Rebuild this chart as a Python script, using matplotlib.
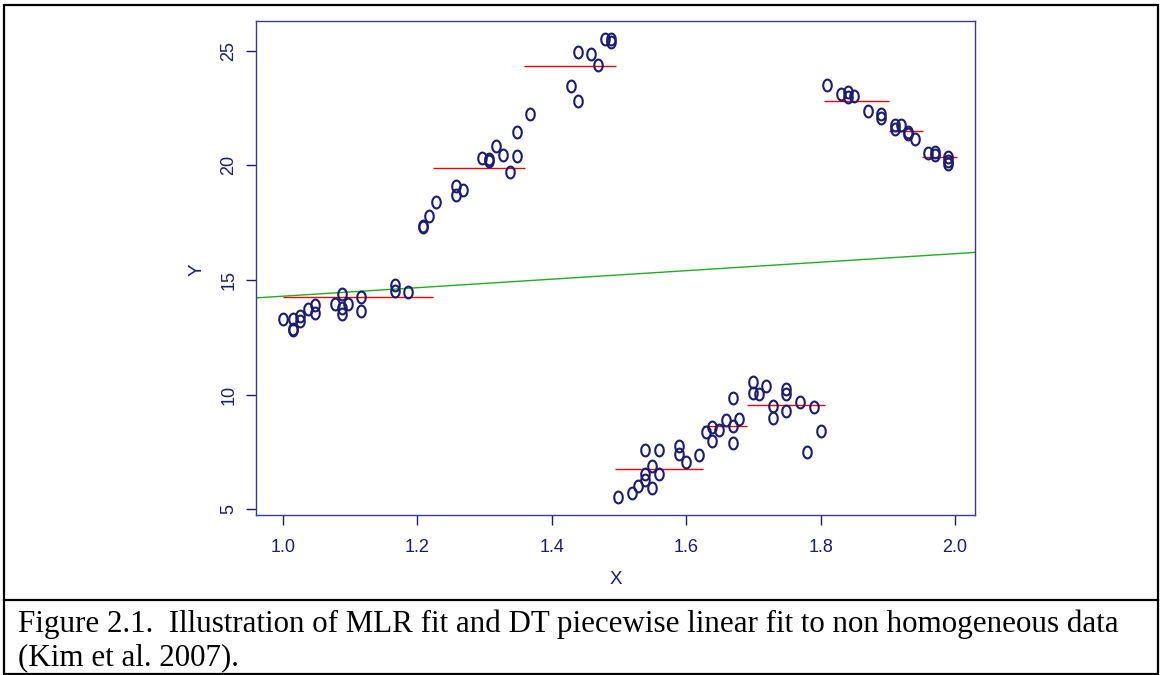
import numpy as np
import matplotlib
matplotlib.use("Agg")
import matplotlib.pyplot as plt
from matplotlib.path import Path
from matplotlib.markers import MarkerStyle
from matplotlib.patches import Rectangle
from matplotlib.lines import Line2D

# ---- data ----
x_vals = [1.00, 1.016, 1.016, 1.016, 1.026, 1.026, 1.038, 1.048, 1.048, 1.078,
          1.088, 1.088, 1.088, 1.097, 1.117, 1.117, 1.167, 1.167, 1.187,
          1.208, 1.208, 1.218, 1.228, 1.258, 1.258, 1.268, 1.297, 1.307, 1.307,
          1.318, 1.328, 1.338, 1.348, 1.348, 1.368, 1.429, 1.439, 1.439, 1.459,
          1.469, 1.479, 1.489, 1.489,
          1.499, 1.519, 1.529, 1.539, 1.539, 1.539, 1.549, 1.549, 1.559, 1.559,
          1.590, 1.590, 1.600, 1.619, 1.629, 1.639, 1.639, 1.649, 1.659, 1.669,
          1.669, 1.669, 1.679, 1.699, 1.699, 1.709, 1.719, 1.729, 1.729, 1.748,
          1.748, 1.748, 1.770, 1.780, 1.790, 1.800,
          1.810, 1.830, 1.840, 1.840, 1.850, 1.871, 1.890, 1.890, 1.910, 1.910,
          1.920, 1.930, 1.930, 1.940, 1.960, 1.970, 1.970, 1.990, 1.990, 1.990]
y_vals = [13.28, 13.28, 12.87, 12.80, 13.42, 13.20, 13.75, 13.89, 13.57, 13.97,
          14.37, 13.79, 13.53, 13.97, 14.27, 13.64, 14.77, 14.52, 14.47,
          17.37, 17.30, 17.80, 18.39, 19.12, 18.71, 18.94, 20.32, 20.21, 20.28,
          20.84, 20.46, 19.70, 21.46, 20.43, 22.23, 23.47, 22.81, 24.96, 24.84,
          24.40, 25.50, 25.50, 25.40,
          5.55, 5.71, 6.01, 6.27, 6.53, 7.58, 5.91, 6.88, 6.53, 7.58,
          7.76, 7.40, 7.05, 7.37, 8.36, 8.58, 7.99, 8.46, 8.90, 8.65,
          9.85, 7.88, 8.93, 10.55, 10.09, 10.02, 10.40, 9.51, 8.97, 10.26,
          10.04, 9.29, 9.66, 7.51, 9.45, 8.42,
          23.50, 23.13, 23.18, 22.99, 23.03, 22.36, 22.26, 22.07, 21.75, 21.57,
          21.75, 21.46, 21.38, 21.13, 20.55, 20.58, 20.46, 20.36, 20.21, 20.07]

# DT piecewise fit segments
seg_x0 = [1.000, 1.223, 1.359, 1.494, 1.625, 1.691, 1.805, 1.901, 1.951]
seg_x1 = [1.223, 1.360, 1.496, 1.625, 1.691, 1.806, 1.901, 1.952, 2.003]
seg_y = [14.27, 19.89, 24.35, 6.74, 8.62, 9.54, 22.81, 21.48, 20.36]

# MLR fit
mlr_intercept = 12.44
mlr_slope = 1.855

x_ticks = [1.0, 1.2, 1.4, 1.6, 1.8, 2.0]
y_ticks = [5, 10, 15, 20, 25]
x_label = "X"
y_label = "Y"
caption = ["Figure 2.1.  Illustration of MLR fit and DT piecewise linear fit to non homogeneous data",
           "(Kim et al. 2007)."]

# ---- style ----
W, H = 1160, 675
navy = "#1b1b70"
frame = "#3a3a8a"
plt.rcParams['font.family'] = ['Liberation Sans', 'DejaVu Sans']

fig = plt.figure(figsize=(W / 100, H / 100), dpi=100)
fig.patch.set_facecolor("white")

L, R, T, B = 256, 975, 21, 515
ax = fig.add_axes([L / W, 1 - B / H, (R - L) / W, (B - T) / H])

# ellipse "o" marker
t = np.linspace(0, 2 * np.pi, 60)
verts = np.column_stack([0.72 * np.cos(t), np.sin(t)])
omarker = MarkerStyle(Path(verts, closed=True))

ax.plot(x_vals, y_vals, linestyle="none", marker=omarker, markersize=8.5,
        markerfacecolor="none", markeredgecolor=navy, markeredgewidth=1.5, zorder=3)

ax.hlines(seg_y, seg_x0, seg_x1, colors="#ee0000", linewidth=1.0, zorder=2)
ax.axline((0, mlr_intercept), slope=mlr_slope, color="#1fae1f", linewidth=1.0, zorder=2)

xr = max(x_vals) - min(x_vals)
yr = max(y_vals) - min(y_vals)
ax.set_xlim(min(x_vals) - 0.04 * xr, max(x_vals) + 0.04 * xr)
ax.set_ylim(min(y_vals) - 0.04 * yr, max(y_vals) + 0.04 * yr)

ax.set_xticks(x_ticks)
ax.set_xticklabels([f"{v:.1f}" for v in x_ticks])
ax.set_yticks(y_ticks)
ax.set_yticklabels([str(v) for v in y_ticks], rotation=90, va="center")

ax.tick_params(axis="both", direction="out", length=7.5, width=1.0, color=navy,
               labelcolor=navy, labelsize=13)
ax.tick_params(axis="x", pad=10)
ax.tick_params(axis="y", pad=6)
for s in ax.spines.values():
    s.set_color(frame)
    s.set_linewidth(1.0)

fig.text(616 / W, 1 - 579 / H, x_label, color=navy, fontsize=13.5, ha="center", va="center")
fig.text(197 / W, 1 - 270 / H, y_label, color=navy, fontsize=13.5, ha="center", va="center",
         rotation=90)

# outer border and caption box
fig.add_artist(Rectangle((4 / W, 1 - 674 / H), 1154 / W, 669 / H, transform=fig.transFigure,
                         fill=False, edgecolor="black", linewidth=1.6))
fig.add_artist(Line2D([4 / W, 1158 / W], [1 - 600 / H, 1 - 600 / H], transform=fig.transFigure,
                      color="black", linewidth=1.6))

fig.text(18 / W, 1 - 632 / H, caption[0], family=["Liberation Serif", "DejaVu Serif"],
         fontsize=22.3, color="black", ha="left", va="baseline")
fig.text(18 / W, 1 - 665 / H, caption[1], family=["Liberation Serif", "DejaVu Serif"],
         fontsize=22.3, color="black", ha="left", va="baseline")

fig.savefig("out.png", dpi=100)
